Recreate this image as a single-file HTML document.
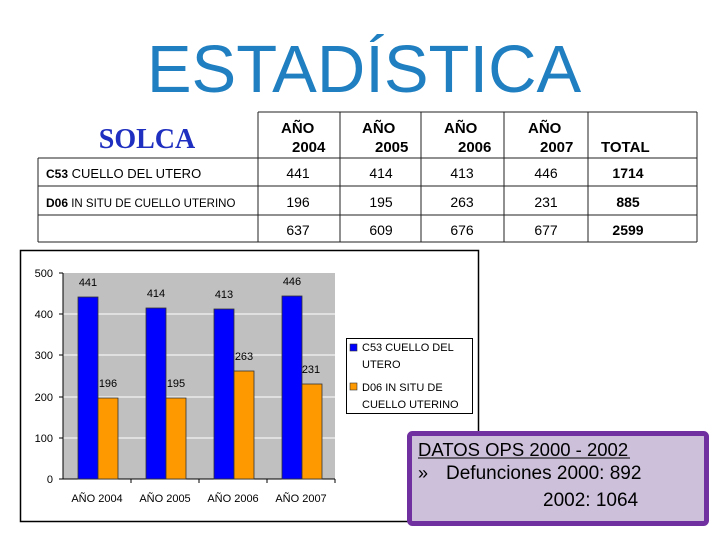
<!DOCTYPE html>
<html><head><meta charset="utf-8"><style>
body{margin:0;background:#fff;width:728px;height:546px;overflow:hidden}
svg text{font-family:"Liberation Sans",sans-serif}
</style></head><body>
<svg width="728" height="546" viewBox="0 0 728 546" xmlns="http://www.w3.org/2000/svg">
<text x="364" y="92" text-anchor="middle" font-size="67" fill="#1f7fc0">ESTADÍSTICA</text>
<text x="147" y="148" text-anchor="middle" font-size="28" font-weight="bold" fill="#1f2fbf" style="font-family:'Liberation Serif',serif">SOLCA</text>
<g stroke="#222" stroke-width="1" fill="none">
<line x1="258" y1="112" x2="697" y2="112"/>
<line x1="38" y1="158" x2="697" y2="158"/>
<line x1="38" y1="186" x2="697" y2="186"/>
<line x1="38" y1="215" x2="697" y2="215"/>
<line x1="38" y1="242" x2="697" y2="242"/>
<line x1="38" y1="158" x2="38" y2="242"/>
<line x1="258" y1="112" x2="258" y2="242"/>
<line x1="340" y1="112" x2="340" y2="242"/>
<line x1="421" y1="112" x2="421" y2="242"/>
<line x1="504" y1="112" x2="504" y2="242"/>
<line x1="588" y1="112" x2="588" y2="242"/>
<line x1="697" y1="112" x2="697" y2="242"/>
</g>
<g font-size="15" font-weight="bold" fill="#000">
<text x="281" y="133">AÑO</text><text x="292" y="152">2004</text>
<text x="362" y="133">AÑO</text><text x="375" y="152">2005</text>
<text x="444" y="133">AÑO</text><text x="458" y="152">2006</text>
<text x="528" y="133">AÑO</text><text x="540" y="152">2007</text>
<text x="601" y="152">TOTAL</text>
</g>
<g font-size="13" fill="#000">
<text x="46" y="178"><tspan font-weight="bold" font-size="12">C53</tspan> CUELLO DEL UTERO</text>
<text x="46" y="207" font-size="11.5"><tspan font-weight="bold" font-size="12">D06</tspan> IN SITU DE CUELLO UTERINO</text>
<g text-anchor="middle" font-size="14">
<text x="298" y="178">441</text><text x="381" y="178">414</text><text x="462" y="178">413</text><text x="546" y="178">446</text>
<text x="298" y="207">196</text><text x="381" y="207">195</text><text x="462" y="207">263</text><text x="546" y="207">231</text>
<text x="298" y="235">637</text><text x="381" y="235">609</text><text x="462" y="235">676</text><text x="546" y="235">677</text>
<g font-weight="bold"><text x="628" y="178">1714</text><text x="628" y="207">885</text><text x="628" y="235">2599</text></g>
</g></g>
<rect x="20.5" y="250.5" width="458" height="271" fill="#fff" stroke="#000" stroke-width="1.5"/>
<rect x="63" y="273" width="272" height="206" fill="#c0c0c0"/>
<g stroke="#fff" stroke-width="1"><line x1="63" y1="314" x2="335" y2="314"/><line x1="63" y1="355" x2="335" y2="355"/><line x1="63" y1="397" x2="335" y2="397"/><line x1="63" y1="438" x2="335" y2="438"/></g>
<g stroke="#000" stroke-width="1"><line x1="63" y1="273" x2="63" y2="479"/><line x1="63" y1="479" x2="335" y2="479"/>
<line x1="59" y1="273" x2="63" y2="273"/><line x1="59" y1="314" x2="63" y2="314"/><line x1="59" y1="355" x2="63" y2="355"/><line x1="59" y1="397" x2="63" y2="397"/><line x1="59" y1="438" x2="63" y2="438"/><line x1="59" y1="479" x2="63" y2="479"/>
<line x1="131" y1="479" x2="131" y2="483"/><line x1="199" y1="479" x2="199" y2="483"/><line x1="267" y1="479" x2="267" y2="483"/><line x1="335" y1="479" x2="335" y2="483"/></g>
<g stroke="#333" stroke-width="0.8">
<rect x="78" y="297" width="20" height="182" fill="#0000ff"/><rect x="98" y="398" width="20" height="81" fill="#ff9900"/>
<rect x="146" y="308" width="20" height="171" fill="#0000ff"/><rect x="166" y="398" width="20" height="81" fill="#ff9900"/>
<rect x="214" y="309" width="20" height="170" fill="#0000ff"/><rect x="234" y="371" width="20" height="108" fill="#ff9900"/>
<rect x="282" y="296" width="20" height="183" fill="#0000ff"/><rect x="302" y="384" width="20" height="95" fill="#ff9900"/>
</g>
<g font-size="11" fill="#000">
<g text-anchor="end"><text x="53" y="277">500</text><text x="53" y="318">400</text><text x="53" y="359">300</text><text x="53" y="401">200</text><text x="53" y="442">100</text><text x="53" y="483">0</text></g>
<g text-anchor="middle"><text x="88" y="286">441</text><text x="156" y="297">414</text><text x="224" y="298">413</text><text x="292" y="285">446</text>
<text x="108" y="387">196</text><text x="176" y="387">195</text><text x="244" y="360">263</text><text x="311" y="373">231</text>
<text x="97" y="502">AÑO 2004</text><text x="165" y="502">AÑO 2005</text><text x="233" y="502">AÑO 2006</text><text x="301" y="502">AÑO 2007</text></g>
</g>
<rect x="346.5" y="338.5" width="126" height="75" fill="#fff" stroke="#000"/>
<rect x="350" y="344" width="7" height="7" fill="#0000ff" stroke="#333" stroke-width="0.6"/>
<rect x="350" y="383" width="7" height="7" fill="#ff9900" stroke="#333" stroke-width="0.6"/>
<g font-size="11" fill="#000"><text x="362" y="351">C53 CUELLO DEL</text><text x="362" y="368">UTERO</text><text x="362" y="391">D06 IN SITU DE</text><text x="362" y="408">CUELLO UTERINO</text></g>
<rect x="409.5" y="433.5" width="297" height="90" rx="3" fill="#ccc0da" stroke="#7030a0" stroke-width="5"/>
<g fill="#000">
<text x="418" y="456" font-size="18.5">DATOS OPS 2000 - 2002</text>
<line x1="418" y1="458" x2="630" y2="458" stroke="#000" stroke-width="1"/>
<text x="418" y="479" font-size="18">»</text>
<text x="446" y="479" font-size="19">Defunciones 2000: 892</text>
<text x="543" y="506" font-size="19">2002: 1064</text>
</g>
</svg>
</body></html>
